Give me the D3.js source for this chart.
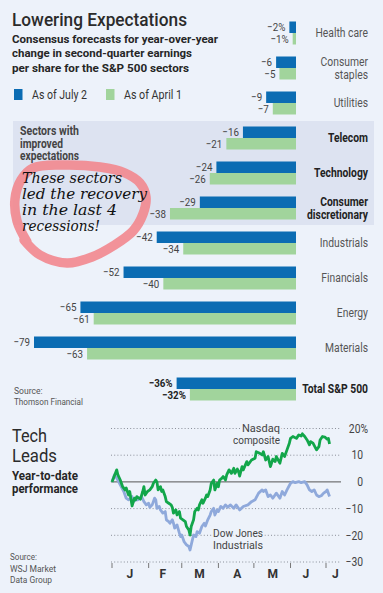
<!DOCTYPE html>
<html><head><meta charset="utf-8">
<script src="https://cdn.jsdelivr.net/npm/d3@7"></script>
<style>
html,body{margin:0;padding:0;background:#edf2fa;}
svg{display:block;}
text{font-family:"Roboto","Liberation Sans",sans-serif;}
</style></head><body>
<svg id="c" width="383" height="593"></svg>
<script>
// ---------- data ----------
const sectors = ["Health care","Consumer staples","Utilities","Telecom","Technology","Consumer discretionary","Industrials","Financials","Energy","Materials"];
const asOfJuly2 = [-2,-6,-9,-16,-24,-29,-42,-52,-65,-79];
const asOfApril1 = [-1,-5,-7,-21,-26,-38,-34,-40,-61,-63];
const improvedSectors = ["Telecom","Technology","Consumer discretionary"];
const totalName = "Total S&P 500";
const totalJuly2 = -36;
const totalApril1 = -32;
const legendLabels = ["As of July 2","As of April 1"];

// line chart: day offsets from Jan 1 2009, YTD % change
const nasdaqDays = [0,4,5,7,9,11,12,14,15,17,19,20,21,24,26,27,28,30,32,34,35,37,38,39,41,42,43,45,46,48,50,51,52,54,55,57,58,60,62,63,65,66,67,69,70,72,73,74,76,77,79,80,81,83,84,86,87,89,90,91,93,94,96,97,99,101,103,104,106,107,108,110,111,114,115,118,121,122,125,127,128,130,132,134,136,138,139,142,144,146,148,150,151,153,156,158,160,161,163,165,167,168,170,173,175,176,178,180,182,183,184];
const nasdaqValues = [0,4.5,2.6,0.7,-1.8,-3,-2.3,-4.9,-3.6,-9,-6.1,-6.7,-5.5,-6.5,-3.6,-1.8,-4.9,-3.6,-3,-1.8,-0.5,0.7,0,-3,-1.8,-3.6,-3,-5.5,-7.4,-8,-8.6,-9.5,-11.7,-10.5,-12.4,-11.1,-13.6,-14.2,-14.9,-16.7,-18,-19.9,-16.7,-14.2,-11.1,-9.9,-10.5,-8.6,-6.7,-8,-6.1,-4.9,-5.5,-3,-0.5,0.7,-3,-0.5,-1.8,0.7,1.4,2,0.7,2.6,4.5,3.2,5.1,3.2,4.8,3.9,2.2,5.7,4.5,7.6,6.4,8.2,8.9,11.3,10.7,10.1,11.3,8.2,9.5,5.7,8.5,7.6,9.5,7,10.7,9.5,12,14.5,16.3,17,16.3,17.6,17.2,18,17,15.7,13.9,15.1,14.5,12,13.2,15.7,17,16.8,16,16.3,14.2];
const dowDays = [0,2,4,7,10,12,14,17,18,20,22,25,27,29,31,32,34,36,37,38,40,41,43,45,46,48,49,51,52,53,55,57,58,59,61,63,65,66,67,68,69,71,72,74,76,78,79,81,83,84,86,87,89,90,92,94,96,98,100,103,105,108,111,115,118,121,124,127,128,130,132,134,136,139,142,144,146,148,151,153,155,158,160,163,165,167,169,171,173,175,177,179,181,182,184];
const dowValues = [0,2.6,1.4,-1.1,-3.6,-6.1,-6.7,-5.5,-7.4,-6.7,-6.7,-5.5,-7.4,-8.6,-8,-9.5,-8.6,-6.1,-6.7,-9.9,-9.2,-10.5,-11.7,-11.1,-14.2,-14.9,-15.5,-14.2,-15.5,-17.3,-16.1,-19.2,-20.5,-19.9,-22.4,-23.6,-24.2,-25.5,-23.6,-21.7,-19.9,-20.5,-18.6,-19.2,-16.7,-15.5,-16.5,-14.2,-12.4,-11.1,-9.9,-12.4,-10.5,-11.1,-9.2,-9.9,-8.6,-9.5,-8.6,-9.9,-8.6,-10.5,-9.2,-8.6,-7.4,-6.7,-4.2,-3,-3.6,-3,-5.5,-4.9,-6.1,-4.2,-6.1,-3.6,-4.9,-3,-0.5,0.1,-0.3,0.1,-0.3,0.1,-1.1,-3,-3.6,-3,-4.9,-5.5,-5.2,-4.2,-3.6,-3,-5.5];
const yTicks = [20,10,0,-10,-20,-30];
const monthLabels = ["J","F","M","A","M","J","J"];
const monthLabelDays = [15,43,74,106,136,164,189];
const monthTickMonths = [0,1,2,3,4,5,6];

// ---------- drawing ----------
const svg = d3.select("#c");
const BG = "#edf2fa", BLUE = "#0b6cb3", GREEN = "#a1d49c";
svg.append("rect").attr("width",383).attr("height",593).attr("fill",BG);
svg.append("rect").attr("x",13).attr("y",121).attr("width",361).attr("height",104).attr("fill","#dde3f1");

const condense = (sel,f)=>sel.each(function(){
  const w = this.getComputedTextLength();
  d3.select(this).attr("textLength",w*f).attr("lengthAdjust","spacingAndGlyphs");
});
const T = (x,y,s,opt={})=>{
  const t = svg.append("text").attr("x",x).attr("y",y).text(s)
    .attr("font-size",opt.size||12).attr("fill",opt.fill||"#333")
    .attr("font-weight",opt.weight||"normal");
  if(opt.anchor) t.attr("text-anchor",opt.anchor);
  if(opt.family) t.style("font-family",opt.family);
  if(opt.style) t.attr("font-style",opt.style);
  if(opt.len) t.attr("textLength",opt.len).attr("lengthAdjust","spacingAndGlyphs");
  else if(opt.cond) condense(t,opt.cond);
  return t;
};
T(12,26,"Lowering Expectations",{size:18.5,fill:"#2b2b2b",len:175}).attr("font-weight",500);
T(12,43.3,"Consensus forecasts for year-over-year",{size:11.8,weight:"bold",fill:"#262626",len:206});
T(12,57.3,"change in second-quarter earnings",{size:11.8,weight:"bold",fill:"#262626",len:180});
T(12,71.5,"per share for the S&P 500 sectors",{size:11.8,weight:"bold",fill:"#262626",len:177});

// legend
svg.append("rect").attr("x",14).attr("y",89).attr("width",8.5).attr("height",11).attr("fill",BLUE);
svg.append("rect").attr("x",106).attr("y",89).attr("width",8.5).attr("height",11).attr("fill",GREEN);
T(32,99.3,legendLabels[0],{size:12,fill:"#333",len:55});
T(124,99.3,legendLabels[1],{size:12,fill:"#333",len:58});

// bar scales
const x = d3.scaleLinear().domain([-79,0]).range([34,296]);
const y = d3.scaleBand().domain(sectors).range([15.5,365.5]);
const BH = 11.5;
const rows = sectors.map((s,i)=>({name:s, a:asOfJuly2[i], b:asOfApril1[i], cy:y(s)+y.bandwidth()/2, pct:i===0, total:false, bold:improvedSectors.includes(s)}));
rows.push({name:totalName, a:totalJuly2, b:totalApril1, cy:y(sectors[sectors.length-1])+y.bandwidth()/2+41, pct:true, total:true, bold:true});

const g = svg.append("g");
g.selectAll("rect.a").data(rows).join("rect").attr("x",d=>x(d.a)).attr("width",d=>x(0)-x(d.a))
  .attr("y",d=>d.cy-BH).attr("height",BH).attr("fill",BLUE);
g.selectAll("rect.b").data(rows).join("rect").attr("class","b").attr("x",d=>x(d.b)).attr("width",d=>x(0)-x(d.b))
  .attr("y",d=>d.cy).attr("height",BH).attr("fill",GREEN);
const fmt = (v,p)=>"\u2212"+Math.abs(v)+(p?"%":"");
condense(g.selectAll("text.va").data(rows).join("text").attr("class","va")
  .attr("x",d=>x(d.a)-4).attr("y",d=>d.cy-BH/2+4.2).attr("text-anchor","end")
  .attr("font-size",11.5).attr("fill",d=>d.total?"#222":"#444").attr("font-weight",d=>d.total?"bold":"normal")
  .text(d=>fmt(d.a,d.pct)),0.85);
condense(g.selectAll("text.vb").data(rows).join("text").attr("class","vb")
  .attr("x",d=>x(d.b)-4).attr("y",d=>d.cy+BH/2+4.6).attr("text-anchor","end")
  .attr("font-size",11.5).attr("fill",d=>d.total?"#222":"#444").attr("font-weight",d=>d.total?"bold":"normal")
  .text(d=>fmt(d.b,d.pct)),0.85);
// sector names
rows.forEach(d=>{
  let lines = [d.name];
  if(d.name==="Consumer staples") lines=["Consumer","staples"];
  if(d.name==="Consumer discretionary") lines=["Consumer","discretionary"];
  lines.forEach((ln,i)=>{
    const off = (i-(lines.length-1)/2)*13;
    T(368,d.cy+off+4.2,ln,{size:12.3,anchor:"end",fill:d.bold?"#222":"#555",weight:d.bold?"bold":"normal",cond:0.84});
  });
});

// improved note
T(20,135,"Sectors with",{size:12,fill:"#444",weight:"bold",len:59});
T(20,147.5,"improved",{size:12,fill:"#444",weight:"bold",len:43});
T(20,160,"expectations",{size:12,fill:"#444",weight:"bold",len:59});

// handwritten annotation
const loopPts = [[24,240],[40,255],[67,263],[92,257],[113,246],[133,231],[143,214],[146,197],[140,183],[125,173],[100,167],[62,165],[33,168],[21,180],[15,199],[17,221],[27,242]];
svg.append("path").attr("d",d3.line().curve(d3.curveCatmullRom)(loopPts))
  .attr("fill","none").attr("stroke","#f2878e").attr("stroke-width",9.5).attr("stroke-linecap","round").attr("opacity",0.9);
const hw = {size:14.5,fill:"#111",style:"italic",family:"'DejaVu Serif','Liberation Serif',serif"};
T(22,183,"These sectors",{...hw,len:100});
T(22,199,"led the recovery",{...hw,len:125});
T(22,215,"in the last 4",{...hw,len:95});
T(22,231,"recessions!",{...hw,len:78});

// source 1
T(14,394,"Source:",{size:9.5,fill:"#555",cond:0.9});
T(14,405,"Thomson Financial",{size:9.5,fill:"#555",len:69});

// ---------- line chart ----------
T(12,441.7,"Tech",{size:19,fill:"#2b2b2b",len:35});
T(12,461.7,"Leads",{size:19,fill:"#2b2b2b",len:45});
T(12,480,"Year-to-date",{size:12,fill:"#262626",weight:"bold",len:66});
T(12,493.3,"performance",{size:12,fill:"#262626",weight:"bold",len:66});

T(10,560,"Source:",{size:9.5,fill:"#555",len:27});
T(10,571.5,"WSJ Market",{size:9.5,fill:"#555",len:46});
T(10,583,"Data Group",{size:9.5,fill:"#555",len:42});

const jan1 = new Date(2009,0,1);
const xt = d3.scaleTime().domain([jan1,new Date(2009,6,1)]).range([112,326]);
const yl = d3.scaleLinear().domain([-30,20]).range([562,428.5]);
const day = n=>d3.timeDay.offset(jan1,n);
const lc = svg.append("g");
lc.selectAll("line.grid").data(yTicks.filter(v=>v!==0)).join("line")
  .attr("x1",111).attr("x2",341).attr("y1",d=>yl(d)).attr("y2",d=>yl(d))
  .attr("stroke","#8a8f99").attr("stroke-width",1).attr("stroke-dasharray","1,2.2");
lc.append("line").attr("x1",111).attr("x2",341).attr("y1",yl(0)).attr("y2",yl(0)).attr("stroke","#555").attr("stroke-width",1);
condense(lc.selectAll("text.yl").data(yTicks).join("text").attr("x",d=>d===20?368:363).attr("y",d=>yl(d)+4.2)
  .attr("text-anchor","end").attr("font-size",12).attr("fill","#444")
  .text(d=>d===20?"20%":(d<0?"\u2212"+Math.abs(d):d)),0.86);
lc.selectAll("line.xt").data(monthTickMonths).join("line")
  .attr("x1",d=>xt(new Date(2009,d,1))).attr("x2",d=>xt(new Date(2009,d,1)))
  .attr("y1",yl(-30)+1).attr("y2",yl(-30)+6).attr("stroke","#777");
lc.selectAll("text.xl").data(monthLabels).join("text")
  .attr("x",(d,i)=>xt(day(monthLabelDays[i]))).attr("y",578).attr("text-anchor","middle")
  .attr("font-size",12).attr("font-weight","bold").attr("fill","#333").text(d=>d);
const KO = (xx,yy,s,anchor,len)=>T(xx,yy,s,{size:11.5,fill:"#444",anchor,len})
  .attr("stroke",BG).attr("stroke-width",4).attr("paint-order","stroke");
KO(280,431.7,"Nasdaq","end",38);
KO(280,444,"composite","end",47);
KO(213,536.7,"Dow Jones","start",50);
KO(213,548.5,"Industrials","start",50);
const line = d3.line().x(d=>xt(day(d[0]))).y(d=>yl(d[1])).curve(d3.curveLinear);
lc.append("path").attr("d",line(d3.zip(dowDays,dowValues))).attr("fill","none")
  .attr("stroke","#8fa9db").attr("stroke-width",2.8).attr("stroke-linejoin","round");
lc.append("path").attr("d",line(d3.zip(nasdaqDays,nasdaqValues))).attr("fill","none")
  .attr("stroke","#12a64a").attr("stroke-width",2.8).attr("stroke-linejoin","round");
</script></body></html>
